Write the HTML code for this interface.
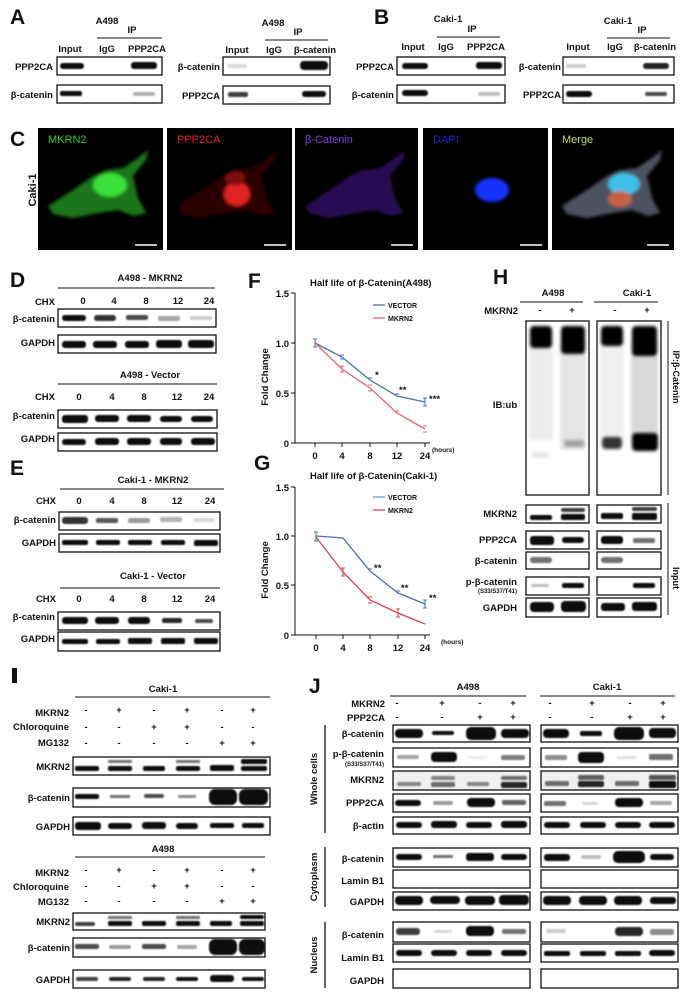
<!DOCTYPE html>
<html><head><meta charset="utf-8"><style>
html,body{margin:0;padding:0;background:#fff}
svg{display:block}
text{font-family:"Liberation Sans",Arial,sans-serif;font-weight:bold;fill:#111}
.L{font-size:21px}
.t{font-size:9.5px}
.s{font-size:6px}
.r{text-anchor:end}
.m{text-anchor:middle}
.box{fill:#fff;stroke:#111;stroke-width:1.3}
.b rect{fill:#0b0b0b}
</style></head><body>
<svg width="683" height="993" viewBox="0 0 683 993">
<defs><filter id="bl" x="-30%" y="-80%" width="160%" height="260%"><feGaussianBlur stdDeviation="0.9"/></filter>
<filter id="bl2"><feGaussianBlur stdDeviation="1.6"/></filter></defs>

<!-- A -->
<text x="10" y="24" class="L">A</text>
<text x="107" y="24" class="t m">A498</text><text x="132" y="33" class="t m">IP</text>
<line x1="97" y1="38" x2="162" y2="38" stroke="#111"/>
<text x="70" y="52" class="t m">Input</text><text x="107" y="52" class="t m">IgG</text><text x="147" y="52" class="t m">PPP2CA</text>
<rect x="57" y="57" width="105" height="18" class="box"/><rect x="57" y="85" width="105" height="18" class="box"/>
<text x="53" y="70" class="t r">PPP2CA</text><text x="53" y="98" class="t r">β-catenin</text>
<text x="273" y="26" class="t m">A498</text><text x="298" y="35" class="t m">IP</text>
<line x1="265" y1="40" x2="328" y2="40" stroke="#111"/>
<text x="237" y="53" class="t m">Input</text><text x="274" y="53" class="t m">IgG</text><text x="315" y="53" class="t m">β-catenin</text>
<rect x="223" y="57" width="107" height="18" class="box"/><rect x="223" y="86" width="107" height="18" class="box"/>
<text x="220" y="70" class="t r">β-catenin</text><text x="220" y="99" class="t r">PPP2CA</text>
<!-- B -->
<text x="374" y="24" class="L">B</text>
<text x="448" y="22" class="t m">Caki-1</text><text x="472" y="32" class="t m">IP</text>
<line x1="437" y1="37" x2="500" y2="37" stroke="#111"/>
<text x="413" y="50" class="t m">Input</text><text x="446" y="50" class="t m">IgG</text><text x="486" y="50" class="t m">PPP2CA</text>
<rect x="397" y="57" width="108" height="18" class="box"/><rect x="397" y="85" width="108" height="18" class="box"/>
<text x="394" y="70" class="t r">PPP2CA</text><text x="394" y="98" class="t r">β-catenin</text>
<text x="618" y="24" class="t m">Caki-1</text><text x="642" y="33" class="t m">IP</text>
<line x1="607" y1="38" x2="670" y2="38" stroke="#111"/>
<text x="578" y="50" class="t m">Input</text><text x="615" y="50" class="t m">IgG</text><text x="655" y="50" class="t m">β-catenin</text>
<rect x="563" y="57" width="111" height="18" class="box"/><rect x="563" y="85" width="111" height="18" class="box"/>
<text x="561" y="70" class="t r">β-catenin</text><text x="561" y="98" class="t r">PPP2CA</text>
<g class="b" filter="url(#bl)">
<rect x="60" y="63" width="24" height="6" rx="3"/><rect x="131" y="62" width="26" height="7" rx="3"/>
<rect x="60" y="91" width="22" height="5" rx="2"/><rect x="133" y="92" width="22" height="4" rx="2" opacity=".3"/>
<rect x="227" y="64" width="20" height="4" rx="2" opacity=".15"/><rect x="300" y="61" width="28" height="9" rx="4"/>
<rect x="228" y="92" width="20" height="5" rx="2" opacity=".8"/><rect x="302" y="91" width="24" height="6" rx="3"/>
<rect x="402" y="63" width="26" height="6" rx="3"/><rect x="476" y="62" width="26" height="7" rx="3"/>
<rect x="402" y="90" width="26" height="6" rx="3"/><rect x="478" y="92" width="22" height="4" rx="2" opacity=".25"/>
<rect x="566" y="64" width="20" height="4" rx="2" opacity=".2"/><rect x="643" y="63" width="26" height="6" rx="3" opacity=".9"/>
<rect x="566" y="91" width="26" height="6" rx="3"/><rect x="645" y="92" width="22" height="4" rx="2" opacity=".75"/>
</g>

<!-- C -->
<text x="10" y="146" class="L">C</text>
<text transform="translate(36,190) rotate(-90)" class="m" style="font-size:11px">Caki-1</text>
<g>
<rect x="38" y="128" width="125" height="122" fill="#000"/>
<rect x="167" y="128" width="125" height="122" fill="#000"/>
<rect x="295" y="128" width="123" height="122" fill="#000"/>
<rect x="423" y="128" width="125" height="122" fill="#000"/>
<rect x="552" y="128" width="122" height="122" fill="#000"/>
</g>
<g filter="url(#bl2)">
<polygon transform="translate(38,128)" fill="#228a1c" opacity=".85" points="10,78 35,62 55,48 68,42 85,40 100,30 110,22 108,32 95,48 100,70 108,85 96,88 80,82 60,85 35,90 15,86"/>
<ellipse cx="110" cy="185" rx="17" ry="12" fill="#3be03a"/>
<polygon transform="translate(167,128)" fill="#2a0404" points="10,78 35,62 55,48 68,42 85,40 100,30 110,22 108,32 95,48 100,70 108,85 96,88 80,82 60,85 35,90 15,86"/>
<ellipse cx="237" cy="194" rx="13" ry="12" fill="#e02020"/><ellipse cx="235" cy="178" rx="10" ry="7" fill="#801010"/>
<polygon transform="translate(295,128)" fill="#2e1060" opacity=".85" points="10,78 35,62 55,48 68,42 85,40 100,30 110,22 108,32 95,48 100,70 108,85 96,88 80,82 60,85 35,90 15,86"/>
<ellipse cx="492" cy="190" rx="17" ry="12" fill="#1530ff"/>
<polygon transform="translate(552,128)" fill="#5a6070" opacity=".85" points="10,78 35,62 55,48 68,42 85,40 100,30 110,22 108,32 95,48 100,70 108,85 96,88 80,82 60,85 35,90 15,86"/>
<ellipse cx="624" cy="184" rx="16" ry="11" fill="#40c0e8"/><ellipse cx="620" cy="199" rx="12" ry="8" fill="#c86040"/>
</g>
<text x="48" y="143" style="font-size:11px;font-weight:normal;fill:#2ecc2e">MKRN2</text>
<text x="177" y="143" style="font-size:11px;font-weight:normal;fill:#e02020">PPP2CA</text>
<text x="305" y="143" style="font-size:11px;font-weight:normal;fill:#8a3ae0">β-Catenin</text>
<text x="433" y="143" style="font-size:11px;font-weight:normal;fill:#2020d0">DAPI</text>
<text x="562" y="143" style="font-size:11px;font-weight:normal;fill:#c8d860">Merge</text>
<g stroke="#fff" stroke-width="1.5"><line x1="135" y1="245" x2="157" y2="245"/><line x1="264" y1="245" x2="286" y2="245"/><line x1="391" y1="245" x2="413" y2="245"/><line x1="520" y1="245" x2="542" y2="245"/><line x1="647" y1="245" x2="669" y2="245"/></g>

<!-- D -->
<text x="10" y="287" class="L">D</text>
<text x="150" y="281" class="t m">A498 - MKRN2</text><line x1="58" y1="288" x2="215" y2="288" stroke="#111"/>
<text x="55" y="305" class="t r">CHX</text>
<g class="t m"><text x="83" y="304">0</text><text x="114" y="304">4</text><text x="146" y="304">8</text><text x="178" y="304">12</text><text x="209" y="304">24</text></g>
<rect x="58" y="309" width="158" height="18" class="box"/><rect x="58" y="335" width="158" height="18" class="box"/>
<text x="55" y="322" class="t r">β-catenin</text><text x="55" y="346" class="t r">GAPDH</text>
<text x="150" y="378" class="t m">A498 - Vector</text><line x1="58" y1="384" x2="217" y2="384" stroke="#111"/>
<text x="55" y="400" class="t r">CHX</text>
<g class="t m"><text x="79" y="400">0</text><text x="112" y="400">4</text><text x="144" y="400">8</text><text x="177" y="400">12</text><text x="209" y="400">24</text></g>
<rect x="58" y="410" width="159" height="18" class="box"/><rect x="58" y="433" width="159" height="18" class="box"/>
<text x="55" y="419" class="t r">β-catenin</text><text x="55" y="442" class="t r">GAPDH</text>
<!-- E -->
<text x="10" y="475" class="L">E</text>
<text x="153" y="483" class="t m">Caki-1 - MKRN2</text><line x1="60" y1="489" x2="224" y2="489" stroke="#111"/>
<text x="56" y="504" class="t r">CHX</text>
<g class="t m"><text x="79" y="504">0</text><text x="112" y="504">4</text><text x="144" y="504">8</text><text x="177" y="504">12</text><text x="210" y="504">24</text></g>
<rect x="59" y="512" width="161" height="18" class="box"/><rect x="59" y="534" width="161" height="18" class="box"/>
<text x="56" y="523" class="t r">β-catenin</text><text x="56" y="546" class="t r">GAPDH</text>
<text x="153" y="579" class="t m">Caki-1 - Vector</text><line x1="60" y1="588" x2="220" y2="588" stroke="#111"/>
<text x="56" y="602" class="t r">CHX</text>
<g class="t m"><text x="79" y="602">0</text><text x="112" y="602">4</text><text x="144" y="602">8</text><text x="177" y="602">12</text><text x="210" y="602">24</text></g>
<rect x="58" y="612" width="162" height="18" class="box"/><rect x="58" y="632" width="162" height="19" class="box"/>
<text x="55" y="620" class="t r">β-catenin</text><text x="55" y="642" class="t r">GAPDH</text>
<g class="b" filter="url(#bl)">
<rect x="62" y="315" width="24" height="6" rx="3"/><rect x="94" y="315" width="22" height="6" rx="3" opacity=".85"/><rect x="126" y="315" width="22" height="5" rx="2" opacity=".75"/><rect x="158" y="316" width="22" height="5" rx="2" opacity=".35"/><rect x="190" y="316" width="22" height="4" rx="2" opacity=".2"/>
<rect x="62" y="341" width="24" height="7" rx="3"/><rect x="93" y="341" width="24" height="7" rx="3"/><rect x="125" y="341" width="24" height="7" rx="3"/><rect x="156" y="340" width="26" height="8" rx="3"/><rect x="188" y="340" width="26" height="8" rx="3"/>
<rect x="62" y="415" width="26" height="8" rx="3"/><rect x="95" y="415" width="24" height="7" rx="3"/><rect x="127" y="415" width="24" height="7" rx="3"/><rect x="160" y="416" width="22" height="6" rx="3"/><rect x="191" y="416" width="22" height="6" rx="3"/>
<rect x="62" y="439" width="24" height="6" rx="3"/><rect x="95" y="438" width="24" height="7" rx="3"/><rect x="127" y="438" width="24" height="7" rx="3"/><rect x="160" y="438" width="22" height="7" rx="3"/><rect x="191" y="438" width="24" height="7" rx="3"/>
<rect x="62" y="517" width="26" height="7" rx="3" opacity=".85"/><rect x="96" y="518" width="22" height="5" rx="2" opacity=".7"/><rect x="128" y="518" width="22" height="5" rx="2" opacity=".4"/><rect x="160" y="517" width="22" height="5" rx="2" opacity=".3"/><rect x="193" y="518" width="22" height="4" rx="2" opacity=".15"/>
<rect x="62" y="540" width="26" height="5" rx="2"/><rect x="96" y="540" width="24" height="5" rx="2"/><rect x="128" y="540" width="24" height="5" rx="2"/><rect x="161" y="540" width="24" height="5" rx="2"/><rect x="194" y="540" width="24" height="6" rx="2"/>
<rect x="62" y="617" width="26" height="7" rx="3"/><rect x="95" y="617" width="24" height="7" rx="3"/><rect x="128" y="617" width="22" height="7" rx="3"/><rect x="162" y="618" width="20" height="5" rx="2" opacity=".9"/><rect x="195" y="619" width="18" height="4" rx="2" opacity=".75"/>
<rect x="62" y="639" width="26" height="5" rx="2"/><rect x="96" y="639" width="24" height="5" rx="2"/><rect x="128" y="638" width="24" height="6" rx="2"/><rect x="161" y="638" width="24" height="6" rx="2"/><rect x="194" y="638" width="24" height="6" rx="2"/>
</g>

<!-- F -->
<text x="248" y="288" class="L">F</text>
<text x="310" y="286" class="t">Half life of β-Catenin(A498)</text>
<g stroke="#111" fill="none"><path d="M295 293V443H430"/><path d="M291 293H295M291 343H295M291 393H295M291 443H295M315 443V447M342 443V447M370 443V447M397 443V447M425 443V447"/></g>
<g class="t r"><text x="289" y="297">1.5</text><text x="289" y="347">1.0</text><text x="289" y="397">0.5</text><text x="289" y="447">0</text></g>
<g class="t m"><text x="315" y="459">0</text><text x="342" y="459">4</text><text x="370" y="459">8</text><text x="397" y="459">12</text><text x="425" y="459">24</text></g>
<text x="432" y="452" style="font-size:6.5px">(hours)</text>
<text transform="translate(268,377) rotate(-90)" class="m" style="font-size:9.5px">Fold Change</text>
<line x1="373" y1="305" x2="385" y2="305" stroke="#4a6fb5" stroke-width="1.3"/><text x="388" y="308" style="font-size:7px">VECTOR</text>
<line x1="373" y1="318" x2="385" y2="318" stroke="#e0667a" stroke-width="1.3"/><text x="388" y="321" style="font-size:7px">MKRN2</text>
<polyline points="315,343 342,357 370,380 397,396 425,402" fill="none" stroke="#4a6fb5" stroke-width="1.3"/>
<polyline points="315,343 342,369 370,388 397,413 425,429" fill="none" stroke="#e0667a" stroke-width="1.3"/>
<g stroke="#4a6fb5" stroke-width="1"><path d="M313 339H317M315 339V347M313 347H317M340 355H344M340 359H344M368 378H372M395 394H399M423 398H427M425 398V406M423 406H427"/></g>
<g stroke="#e0667a" stroke-width="1"><path d="M340 366H344M342 366V372M340 372H344M368 385H372M368 391H372M395 411H399M423 426H427M423 432H427"/></g>
<text x="375" y="378" class="t">*</text><text x="399" y="393" class="t">**</text><text x="429" y="402" class="t">***</text>
<!-- G -->
<text x="254" y="470" class="L">G</text>
<text x="310" y="479" class="t">Half life of β-Catenin(Caki-1)</text>
<g stroke="#111" fill="none"><path d="M295 487V635H430"/><path d="M291 487H295M291 536H295M291 585H295M291 635H295M316 635V639M343 635V639M370 635V639M398 635V639M425 635V639"/></g>
<g class="t r"><text x="289" y="491">1.5</text><text x="289" y="540">1.0</text><text x="289" y="589">0.5</text><text x="289" y="639">0</text></g>
<g class="t m"><text x="316" y="651">0</text><text x="343" y="651">4</text><text x="370" y="651">8</text><text x="398" y="651">12</text><text x="425" y="651">24</text></g>
<text x="441" y="644" style="font-size:6.5px">(hours)</text>
<text transform="translate(268,570) rotate(-90)" class="m" style="font-size:9.5px">Fold Change</text>
<line x1="373" y1="497" x2="385" y2="497" stroke="#5b9bd5" stroke-width="1.3"/><text x="388" y="500" style="font-size:7px">VECTOR</text>
<line x1="373" y1="510" x2="385" y2="510" stroke="#d9404f" stroke-width="1.3"/><text x="388" y="513" style="font-size:7px">MKRN2</text>
<polyline points="316,536 343,538 370,571 398,593 425,604" fill="none" stroke="#4a6fb5" stroke-width="1.3"/>
<polyline points="316,537 343,572 370,600 398,613 425,624" fill="none" stroke="#d9404f" stroke-width="1.3"/>
<g stroke="#4a6fb5" stroke-width="1"><path d="M314 532H318M316 532V541M314 541H318M368 569H372M396 591H400M423 600H427M425 600V608M423 608H427"/></g>
<g stroke="#d9404f" stroke-width="1"><path d="M341 568H345M343 568V576M341 576H345M368 597H372M368 603H372M396 609H400M398 609V617M396 617H400"/></g>
<text x="374" y="571" class="t">**</text><text x="401" y="591" class="t">**</text><text x="429" y="601" class="t">**</text>

<!-- H -->
<text x="493" y="284" class="L">H</text>
<text x="553" y="296" class="t m">A498</text><line x1="520" y1="302" x2="583" y2="302" stroke="#111"/>
<text x="637" y="296" class="t m">Caki-1</text><line x1="594" y1="302" x2="658" y2="302" stroke="#111"/>
<text x="518" y="314" class="t r">MKRN2</text>
<g class="t m"><text x="540" y="313">-</text><text x="572" y="313">+</text><text x="615" y="313">-</text><text x="647" y="313">+</text></g>
<rect x="526" y="321" width="63" height="174" class="box"/><rect x="597" y="321" width="64" height="174" class="box"/>
<text x="505" y="408" class="t m">IB:ub</text>
<line x1="668" y1="321" x2="668" y2="495" stroke="#111"/>
<text transform="translate(673,377) rotate(90)" class="m" style="font-size:9px">IP:β-Catenin</text>
<g filter="url(#bl2)">
<rect x="530" y="326" width="22" height="22" rx="4" fill="#000"/><rect x="561" y="326" width="24" height="28" rx="4" fill="#000"/>
<rect x="529" y="340" width="24" height="100" fill="#000" opacity=".07"/><rect x="560" y="340" width="26" height="110" fill="#000" opacity=".1"/>
<rect x="564" y="440" width="20" height="7" rx="3" fill="#000" opacity=".3"/><rect x="532" y="452" width="18" height="6" rx="3" fill="#000" opacity=".1"/>
<rect x="601" y="326" width="22" height="20" rx="4" fill="#000"/><rect x="632" y="326" width="25" height="30" rx="4" fill="#000"/>
<rect x="600" y="340" width="24" height="100" fill="#000" opacity=".06"/><rect x="631" y="340" width="27" height="100" fill="#000" opacity=".15"/>
<rect x="602" y="437" width="20" height="12" rx="4" fill="#000" opacity=".8"/><rect x="632" y="433" width="26" height="18" rx="4" fill="#000"/>
</g>
<rect x="526" y="505" width="63" height="18" class="box"/><rect x="597" y="505" width="64" height="18" class="box"/>
<rect x="526" y="531" width="63" height="18" class="box"/><rect x="597" y="531" width="64" height="18" class="box"/>
<rect x="526" y="552" width="63" height="17" class="box"/><rect x="597" y="552" width="64" height="17" class="box"/>
<rect x="526" y="577" width="63" height="18" class="box"/><rect x="597" y="577" width="64" height="18" class="box"/>
<rect x="526" y="598" width="63" height="19" class="box"/><rect x="597" y="598" width="64" height="19" class="box"/>
<text x="517" y="517" class="t r">MKRN2</text><text x="517" y="543" class="t r">PPP2CA</text><text x="517" y="564" class="t r">β-catenin</text>
<text x="517" y="585" class="t r">p-β-catenin</text><text x="517" y="593" class="s r">(S33/S37/T41)</text><text x="517" y="611" class="t r">GAPDH</text>
<line x1="668" y1="503" x2="668" y2="615" stroke="#111"/>
<text transform="translate(673,578) rotate(90)" class="m" style="font-size:9px">Input</text>
<g class="b" filter="url(#bl)">
<rect x="530" y="515" width="22" height="5" rx="2"/><rect x="561" y="508" width="24" height="4" rx="2" opacity=".8"/><rect x="561" y="514" width="24" height="6" rx="2"/>
<rect x="601" y="513" width="22" height="6" rx="2"/><rect x="632" y="507" width="25" height="4" rx="2" opacity=".8"/><rect x="632" y="513" width="25" height="7" rx="2"/>
<rect x="530" y="536" width="24" height="9" rx="3"/><rect x="562" y="537" width="22" height="6" rx="3"/>
<rect x="601" y="536" width="22" height="8" rx="3"/><rect x="633" y="538" width="22" height="5" rx="2" opacity=".6"/>
<rect x="530" y="557" width="22" height="6" rx="3" opacity=".6"/><rect x="601" y="557" width="22" height="6" rx="3" opacity=".6"/>
<rect x="531" y="584" width="18" height="3" rx="1" opacity=".25"/><rect x="562" y="583" width="22" height="5" rx="2"/>
<rect x="633" y="583" width="22" height="5" rx="2"/>
<rect x="530" y="602" width="24" height="10" rx="4"/><rect x="561" y="601" width="25" height="11" rx="4"/>
<rect x="601" y="603" width="24" height="8" rx="3"/><rect x="632" y="602" width="25" height="9" rx="3"/>
</g>

<!-- I -->
<rect x="12" y="668" width="5" height="15" fill="#111"/>
<text x="163" y="692" class="t m">Caki-1</text><line x1="75" y1="697" x2="270" y2="697" stroke="#111"/>
<text x="69" y="716" class="t r">MKRN2</text><text x="69" y="730" class="t r">Chloroquine</text><text x="69" y="746" class="t r">MG132</text>
<g class="t m">
<text x="86" y="713">-</text><text x="119" y="713">+</text><text x="154" y="713">-</text><text x="187" y="713">+</text><text x="222" y="713">-</text><text x="253" y="713">+</text>
<text x="86" y="730">-</text><text x="119" y="730">-</text><text x="154" y="730">+</text><text x="187" y="730">+</text><text x="222" y="730">-</text><text x="253" y="730">-</text>
<text x="86" y="746">-</text><text x="119" y="746">-</text><text x="154" y="746">-</text><text x="187" y="746">-</text><text x="222" y="746">+</text><text x="253" y="746">+</text>
</g>
<rect x="73" y="757" width="197" height="18" class="box"/><rect x="73" y="788" width="197" height="19" class="box"/><rect x="73" y="817" width="197" height="18" class="box"/>
<text x="70" y="770" class="t r">MKRN2</text><text x="70" y="801" class="t r">β-catenin</text><text x="70" y="830" class="t r">GAPDH</text>
<text x="163" y="852" class="t m">A498</text><line x1="75" y1="857" x2="265" y2="857" stroke="#111"/>
<text x="69" y="876" class="t r">MKRN2</text><text x="69" y="890" class="t r">Chloroquine</text><text x="69" y="905" class="t r">MG132</text>
<g class="t m">
<text x="86" y="873">-</text><text x="119" y="873">+</text><text x="154" y="873">-</text><text x="187" y="873">+</text><text x="222" y="873">-</text><text x="253" y="873">+</text>
<text x="86" y="889">-</text><text x="119" y="889">-</text><text x="154" y="889">+</text><text x="187" y="889">+</text><text x="222" y="889">-</text><text x="253" y="889">-</text>
<text x="86" y="904">-</text><text x="119" y="904">-</text><text x="154" y="904">-</text><text x="187" y="904">-</text><text x="222" y="904">+</text><text x="253" y="904">+</text>
</g>
<rect x="73" y="913" width="192" height="17" class="box"/><rect x="73" y="938" width="192" height="19" class="box"/><rect x="73" y="970" width="192" height="18" class="box"/>
<text x="70" y="925" class="t r">MKRN2</text><text x="70" y="951" class="t r">β-catenin</text><text x="70" y="983" class="t r">GAPDH</text>
<g class="b" filter="url(#bl)">
<rect x="75" y="766" width="24" height="5" rx="2"/><rect x="108" y="760" width="24" height="3" rx="1" opacity=".6"/><rect x="108" y="766" width="24" height="5" rx="2"/><rect x="143" y="766" width="22" height="5" rx="2"/><rect x="176" y="760" width="24" height="3" rx="1" opacity=".6"/><rect x="176" y="766" width="24" height="5" rx="2"/><rect x="210" y="765" width="24" height="6" rx="2"/><rect x="241" y="759" width="26" height="5" rx="2"/><rect x="241" y="766" width="26" height="5" rx="2"/>
<rect x="75" y="794" width="24" height="5" rx="2"/><rect x="110" y="795" width="20" height="3" rx="1" opacity=".55"/><rect x="144" y="794" width="20" height="4" rx="2" opacity=".75"/><rect x="178" y="795" width="18" height="3" rx="1" opacity=".45"/><rect x="209" y="789" width="28" height="16" rx="6"/><rect x="239" y="789" width="29" height="16" rx="6"/>
<rect x="75" y="822" width="26" height="8" rx="3"/><rect x="108" y="823" width="24" height="6" rx="3"/><rect x="142" y="822" width="24" height="7" rx="3"/><rect x="176" y="823" width="22" height="6" rx="3"/><rect x="210" y="823" width="24" height="5" rx="2"/><rect x="242" y="823" width="22" height="5" rx="2"/>
<rect x="75" y="922" width="20" height="4" rx="2" opacity=".8"/><rect x="108" y="916" width="24" height="3" rx="1" opacity=".6"/><rect x="108" y="921" width="24" height="5" rx="2"/><rect x="142" y="921" width="24" height="5" rx="2"/><rect x="176" y="916" width="24" height="3" rx="1" opacity=".6"/><rect x="176" y="921" width="24" height="5" rx="2"/><rect x="210" y="921" width="22" height="5" rx="2"/><rect x="240" y="915" width="24" height="4" rx="2"/><rect x="240" y="921" width="24" height="5" rx="2"/>
<rect x="75" y="944" width="24" height="5" rx="2" opacity=".75"/><rect x="109" y="945" width="22" height="4" rx="2" opacity=".4"/><rect x="142" y="944" width="24" height="5" rx="2" opacity=".75"/><rect x="177" y="945" width="20" height="4" rx="2" opacity=".35"/><rect x="209" y="939" width="28" height="16" rx="6"/><rect x="239" y="939" width="26" height="16" rx="6"/>
<rect x="76" y="977" width="22" height="4" rx="2" opacity=".8"/><rect x="109" y="977" width="22" height="4" rx="2" opacity=".9"/><rect x="143" y="977" width="22" height="4" rx="2" opacity=".9"/><rect x="176" y="977" width="22" height="4" rx="2"/><rect x="210" y="975" width="24" height="7" rx="3"/><rect x="242" y="977" width="22" height="4" rx="2"/>
</g>

<!-- J -->
<text x="309" y="693" class="L">J</text>
<text x="468" y="690" class="t m">A498</text><line x1="390" y1="696" x2="526" y2="696" stroke="#111"/>
<text x="607" y="690" class="t m">Caki-1</text><line x1="540" y1="696" x2="675" y2="696" stroke="#111"/>
<text x="385" y="707" class="t r">MKRN2</text><text x="385" y="721" class="t r">PPP2CA</text>
<g class="t m">
<text x="397" y="706">-</text><text x="442" y="706">+</text><text x="480" y="706">-</text><text x="513" y="706">+</text>
<text x="550" y="706">-</text><text x="592" y="706">+</text><text x="630" y="706">-</text><text x="663" y="706">+</text>
<text x="397" y="720">-</text><text x="442" y="720">-</text><text x="480" y="720">+</text><text x="513" y="720">+</text>
<text x="550" y="720">-</text><text x="592" y="720">-</text><text x="630" y="720">+</text><text x="663" y="720">+</text>
</g>
<g>
<rect x="393" y="725" width="137" height="17" class="box"/><rect x="541" y="725" width="137" height="17" class="box"/>
<rect x="393" y="748" width="137" height="19" class="box"/><rect x="541" y="748" width="137" height="19" class="box"/>
<rect x="393" y="771" width="137" height="19" class="box"/><rect x="541" y="771" width="137" height="19" class="box"/>
<rect x="393" y="794" width="137" height="18" class="box"/><rect x="541" y="794" width="137" height="18" class="box"/>
<rect x="393" y="817" width="137" height="17" class="box"/><rect x="541" y="817" width="137" height="17" class="box"/>
<rect x="393" y="848" width="137" height="19" class="box"/><rect x="541" y="848" width="137" height="19" class="box"/>
<rect x="393" y="870" width="137" height="18" class="box"/><rect x="541" y="870" width="137" height="18" class="box"/>
<rect x="393" y="892" width="137" height="18" class="box"/><rect x="541" y="892" width="137" height="18" class="box"/>
<rect x="393" y="922" width="137" height="20" class="box"/><rect x="541" y="922" width="137" height="20" class="box"/>
<rect x="393" y="944" width="137" height="18" class="box"/><rect x="541" y="944" width="137" height="18" class="box"/>
<rect x="393" y="969" width="137" height="19" class="box"/><rect x="541" y="969" width="137" height="19" class="box"/>
</g>
<rect x="393" y="771" width="137" height="19" fill="#000" opacity=".06"/><rect x="541" y="771" width="137" height="19" fill="#000" opacity=".06"/>
<g class="t r">
<text x="384" y="737">β-catenin</text><text x="384" y="757">p-β-catenin</text><text x="384" y="783">MKRN2</text><text x="384" y="806">PPP2CA</text><text x="384" y="829">β-actin</text>
<text x="384" y="862">β-catenin</text><text x="384" y="884">Lamin B1</text><text x="384" y="905">GAPDH</text>
<text x="384" y="938">β-catenin</text><text x="384" y="961">Lamin B1</text><text x="384" y="984">GAPDH</text>
</g>
<text x="384" y="766" class="s r">(S33/S37/T41)</text>
<g stroke="#111" stroke-width="1.3"><line x1="325" y1="725" x2="325" y2="833"/><line x1="325" y1="847" x2="325" y2="907"/><line x1="325" y1="922" x2="325" y2="988"/></g>
<text transform="translate(317,779) rotate(-90)" class="m" style="font-size:9.5px">Whole cells</text>
<text transform="translate(317,877) rotate(-90)" class="m" style="font-size:9.5px">Cytoplasm</text>
<text transform="translate(317,955) rotate(-90)" class="m" style="font-size:9.5px">Nucleus</text>
<g class="b" filter="url(#bl)">
<rect x="395" y="729" width="28" height="9" rx="4"/><rect x="432" y="731" width="22" height="4" rx="2"/><rect x="466" y="727" width="30" height="13" rx="5"/><rect x="501" y="729" width="28" height="9" rx="4"/>
<rect x="543" y="729" width="26" height="9" rx="4"/><rect x="580" y="731" width="22" height="5" rx="2"/><rect x="614" y="727" width="30" height="13" rx="5"/><rect x="649" y="728" width="27" height="10" rx="4"/>
<rect x="397" y="755" width="22" height="4" rx="2" opacity=".35"/><rect x="431" y="752" width="26" height="10" rx="4"/><rect x="467" y="756" width="20" height="3" rx="1" opacity=".08"/><rect x="501" y="755" width="24" height="5" rx="2" opacity=".5"/>
<rect x="545" y="755" width="22" height="5" rx="2" opacity=".45"/><rect x="578" y="752" width="26" height="11" rx="4"/><rect x="617" y="756" width="20" height="3" rx="1" opacity=".12"/><rect x="649" y="754" width="24" height="6" rx="2" opacity=".6"/>
<rect x="397" y="782" width="24" height="4" rx="2" opacity=".45"/><rect x="431" y="776" width="24" height="4" rx="2" opacity=".45"/><rect x="431" y="782" width="24" height="5" rx="2" opacity=".6"/><rect x="467" y="782" width="22" height="4" rx="2" opacity=".45"/><rect x="501" y="776" width="26" height="4" rx="2" opacity=".6"/><rect x="501" y="782" width="26" height="6" rx="2" opacity=".9"/>
<rect x="545" y="781" width="24" height="5" rx="2" opacity=".55"/><rect x="578" y="775" width="26" height="5" rx="2" opacity=".65"/><rect x="578" y="781" width="26" height="6" rx="2" opacity=".9"/><rect x="615" y="781" width="24" height="5" rx="2" opacity=".6"/><rect x="649" y="775" width="27" height="5" rx="2" opacity=".7"/><rect x="649" y="781" width="27" height="7" rx="2"/>
<rect x="395" y="800" width="26" height="6" rx="3"/><rect x="433" y="801" width="20" height="4" rx="2" opacity=".4"/><rect x="467" y="798" width="28" height="9" rx="4"/><rect x="502" y="800" width="24" height="5" rx="2" opacity=".65"/>
<rect x="544" y="801" width="22" height="5" rx="2" opacity=".55"/><rect x="582" y="802" width="16" height="3" rx="1" opacity=".15"/><rect x="615" y="798" width="28" height="9" rx="4"/><rect x="650" y="801" width="22" height="4" rx="2" opacity=".35"/>
<rect x="396" y="822" width="26" height="6" rx="3"/><rect x="431" y="821" width="26" height="7" rx="3"/><rect x="466" y="822" width="26" height="6" rx="3"/><rect x="501" y="821" width="26" height="7" rx="3"/>
<rect x="544" y="822" width="26" height="6" rx="3"/><rect x="580" y="822" width="26" height="6" rx="3"/><rect x="615" y="822" width="26" height="6" rx="3"/><rect x="649" y="822" width="26" height="6" rx="3"/>
<rect x="396" y="854" width="26" height="6" rx="3"/><rect x="433" y="855" width="20" height="3" rx="1" opacity=".6"/><rect x="466" y="853" width="28" height="8" rx="3"/><rect x="501" y="854" width="26" height="6" rx="3"/>
<rect x="544" y="854" width="26" height="7" rx="3"/><rect x="581" y="855" width="20" height="4" rx="2" opacity=".25"/><rect x="613" y="851" width="32" height="12" rx="5"/><rect x="650" y="854" width="24" height="6" rx="3"/>
<rect x="395" y="896" width="28" height="9" rx="4"/><rect x="430" y="896" width="30" height="8" rx="4"/><rect x="465" y="896" width="30" height="9" rx="4"/><rect x="499" y="895" width="30" height="10" rx="4"/>
<rect x="543" y="896" width="28" height="9" rx="4"/><rect x="579" y="896" width="28" height="9" rx="4"/><rect x="614" y="896" width="28" height="9" rx="4"/><rect x="650" y="897" width="26" height="7" rx="3"/>
<rect x="396" y="928" width="24" height="7" rx="3" opacity=".8"/><rect x="434" y="930" width="18" height="3" rx="1" opacity=".15"/><rect x="466" y="926" width="28" height="10" rx="4"/><rect x="502" y="929" width="24" height="5" rx="2" opacity=".55"/>
<rect x="546" y="929" width="20" height="4" rx="2" opacity=".2"/><rect x="615" y="927" width="28" height="9" rx="4" opacity=".9"/><rect x="650" y="929" width="24" height="6" rx="2" opacity=".45"/>
<rect x="396" y="950" width="26" height="6" rx="3"/><rect x="431" y="950" width="26" height="6" rx="3"/><rect x="466" y="950" width="26" height="6" rx="3"/><rect x="501" y="950" width="26" height="6" rx="3"/>
<rect x="544" y="951" width="26" height="5" rx="2"/><rect x="580" y="951" width="26" height="5" rx="2"/><rect x="615" y="951" width="26" height="5" rx="2"/><rect x="649" y="950" width="26" height="6" rx="3"/>
</g>
</svg>
</body></html>
